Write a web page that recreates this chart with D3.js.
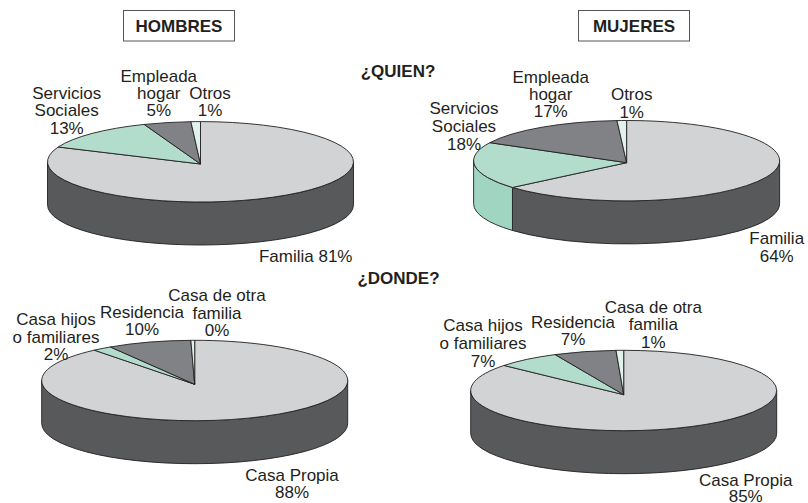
<!DOCTYPE html>
<html>
<head>
<meta charset="utf-8">
<script src="https://cdn.jsdelivr.net/npm/d3@7"></script>
<style>
    html, body { margin: 0; padding: 0; background: #fff; overflow: hidden; }
    text { font-family: "Liberation Sans", Arial, sans-serif; fill: #231f20; }
</style>
</head>
<body>
<div id="chart"></div>
<script>
// slice shares as drawn in each pie (clockwise from 12 o'clock)
const hombresQuien = [81, 13, 5, 1];
const mujeresQuien = [63.4, 19, 16.6, 1];
const hombresDonde = [88.6, 2.1, 8.9, 0.4];
const mujeresDonde = [85.7, 6.9, 6.6, 0.8];

// label text, one array of lines per slice
const hombresQuienLabels = [["Familia 81%"], ["Servicios", "Sociales", "13%"], ["Empleada", "hogar", "5%"], ["Otros", "1%"]];
const mujeresQuienLabels = [["Familia", "64%"], ["Servicios", "Sociales", "18%"], ["Empleada", "hogar", "17%"], ["Otros", "1%"]];
const hombresDondeLabels = [["Casa Propia", "88%"], ["Casa hijos", "o familiares", "2%"], ["Residencia", "10%"], ["Casa de otra", "familia", "0%"]];
const mujeresDondeLabels = [["Casa Propia", "85%"], ["Casa hijos", "o familiares", "7%"], ["Residencia", "7%"], ["Casa de otra", "familia", "1%"]];

const topColors = ["#d1d3d4", "#b2dccb", "#808285", "#e1f2ec"];
const sideColors = ["#58595b", "#9fd5c1", "#58595b", "#58595b"];

const width = 808, height = 503;
const rx = 153, ry = 40.2, depth = 43;

// layout only: centre of each pie and where its labels sit [x, baselines]
const pies = [
    { values: hombresQuien, labels: hombresQuienLabels, cx: 200.5, cy: 161.8, apexDy: 2.2,
      labelPos: [[305.7, [262]], [66.7, [99, 116, 134]], [158.8, [81.5, 98.5, 116]], [210, [99, 116]]] },
    { values: mujeresQuien, labels: mujeresQuienLabels, cx: 626.6, cy: 160.7, apexDy: 2,
      labelPos: [[776.7, [244, 262]], [464, [114, 132, 150]], [550.7, [83, 99.5, 117]], [631.7, [100, 117.5]]] },
    { values: hombresDonde, labels: hombresDondeLabels, cx: 194.7, cy: 380.5, apexDy: 3.8,
      labelPos: [[292, [480.5, 498]], [56, [325, 342.5, 360]], [142, [318, 335]], [217, [300.5, 319, 336]]] },
    { values: mujeresDonde, labels: mujeresDondeLabels, cx: 623.7, cy: 390.5, apexDy: 4.2,
      labelPos: [[745.7, [486, 502]], [483, [330.5, 349, 367]], [573, [328, 345]], [653.3, [312.5, 330, 348]]] }
];

const svg = d3.select("#chart").append("svg")
    .attr("width", width)
    .attr("height", height);

const pieLayout = d3.pie().sort(null).value(d => d);

function edgeX(p, angle) { return p.cx + rx * Math.sin(angle); }
function edgeY(p, angle) { return p.cy - ry * Math.cos(angle); }

function slicePath(p, d) {
    const large = d.endAngle - d.startAngle > Math.PI ? 1 : 0;
    return `M${p.cx},${p.cy + p.apexDy}`
        + `L${edgeX(p, d.startAngle)},${edgeY(p, d.startAngle)}`
        + `A${rx},${ry} 0 ${large} 1 ${edgeX(p, d.endAngle)},${edgeY(p, d.endAngle)}Z`;
}

// only the part of the rim between 3 and 9 o'clock shows
function wallPath(p, d) {
    const a0 = Math.max(d.startAngle, Math.PI / 2);
    const a1 = Math.min(d.endAngle, Math.PI * 1.5);
    if (a1 <= a0) return null;
    const x0 = edgeX(p, a0), y0 = edgeY(p, a0), x1 = edgeX(p, a1), y1 = edgeY(p, a1);
    return `M${x0},${y0}A${rx},${ry} 0 0 1 ${x1},${y1}`
        + `L${x1},${y1 + depth}A${rx},${ry} 0 0 0 ${x0},${y0 + depth}Z`;
}

pies.forEach(p => {
    const arcs = pieLayout(p.values);
    const g = svg.append("g");

    g.selectAll("path.wall")
        .data(arcs.filter(d => wallPath(p, d)))
        .enter().append("path")
        .attr("class", "wall")
        .attr("d", d => wallPath(p, d))
        .attr("fill", d => sideColors[d.index])
        .attr("stroke", "#231f20")
        .attr("stroke-width", 0.9);

    g.selectAll("path.slice")
        .data(arcs)
        .enter().append("path")
        .attr("class", "slice")
        .attr("d", d => slicePath(p, d))
        .attr("fill", d => topColors[d.index])
        .attr("stroke", "#231f20")
        .attr("stroke-width", 0.9)
        .attr("stroke-linejoin", "round");

    p.labels.forEach((lines, i) => {
        const [x, baselines] = p.labelPos[i];
        g.append("g").selectAll("text")
            .data(lines)
            .enter().append("text")
            .attr("x", x)
            .attr("y", (d, j) => baselines[j])
            .attr("text-anchor", "middle")
            .attr("font-size", 17)
            .text(d => d);
    });
});

// header boxes
const headers = [["HOMBRES", 124, 179], ["MUJERES", 579, 634]];
headers.forEach(([name, x, mid]) => {
    svg.append("rect")
        .attr("x", x - 0.5)
        .attr("y", 10.5)
        .attr("width", 111)
        .attr("height", 30.5)
        .attr("fill", "#fff")
        .attr("stroke", "#555")
        .attr("stroke-width", 1);
    svg.append("text")
        .attr("x", mid)
        .attr("y", 32)
        .attr("text-anchor", "middle")
        .attr("font-size", 17)
        .attr("font-weight", "bold")
        .text(name);
});

const questions = [["¿QUIEN?", 398, 77], ["¿DONDE?", 398.5, 284]];
questions.forEach(([q, x, y]) => {
    svg.append("text")
        .attr("x", x)
        .attr("y", y)
        .attr("text-anchor", "middle")
        .attr("font-size", 17)
        .attr("font-weight", "bold")
        .text(q);
});
</script>
</body>
</html>
